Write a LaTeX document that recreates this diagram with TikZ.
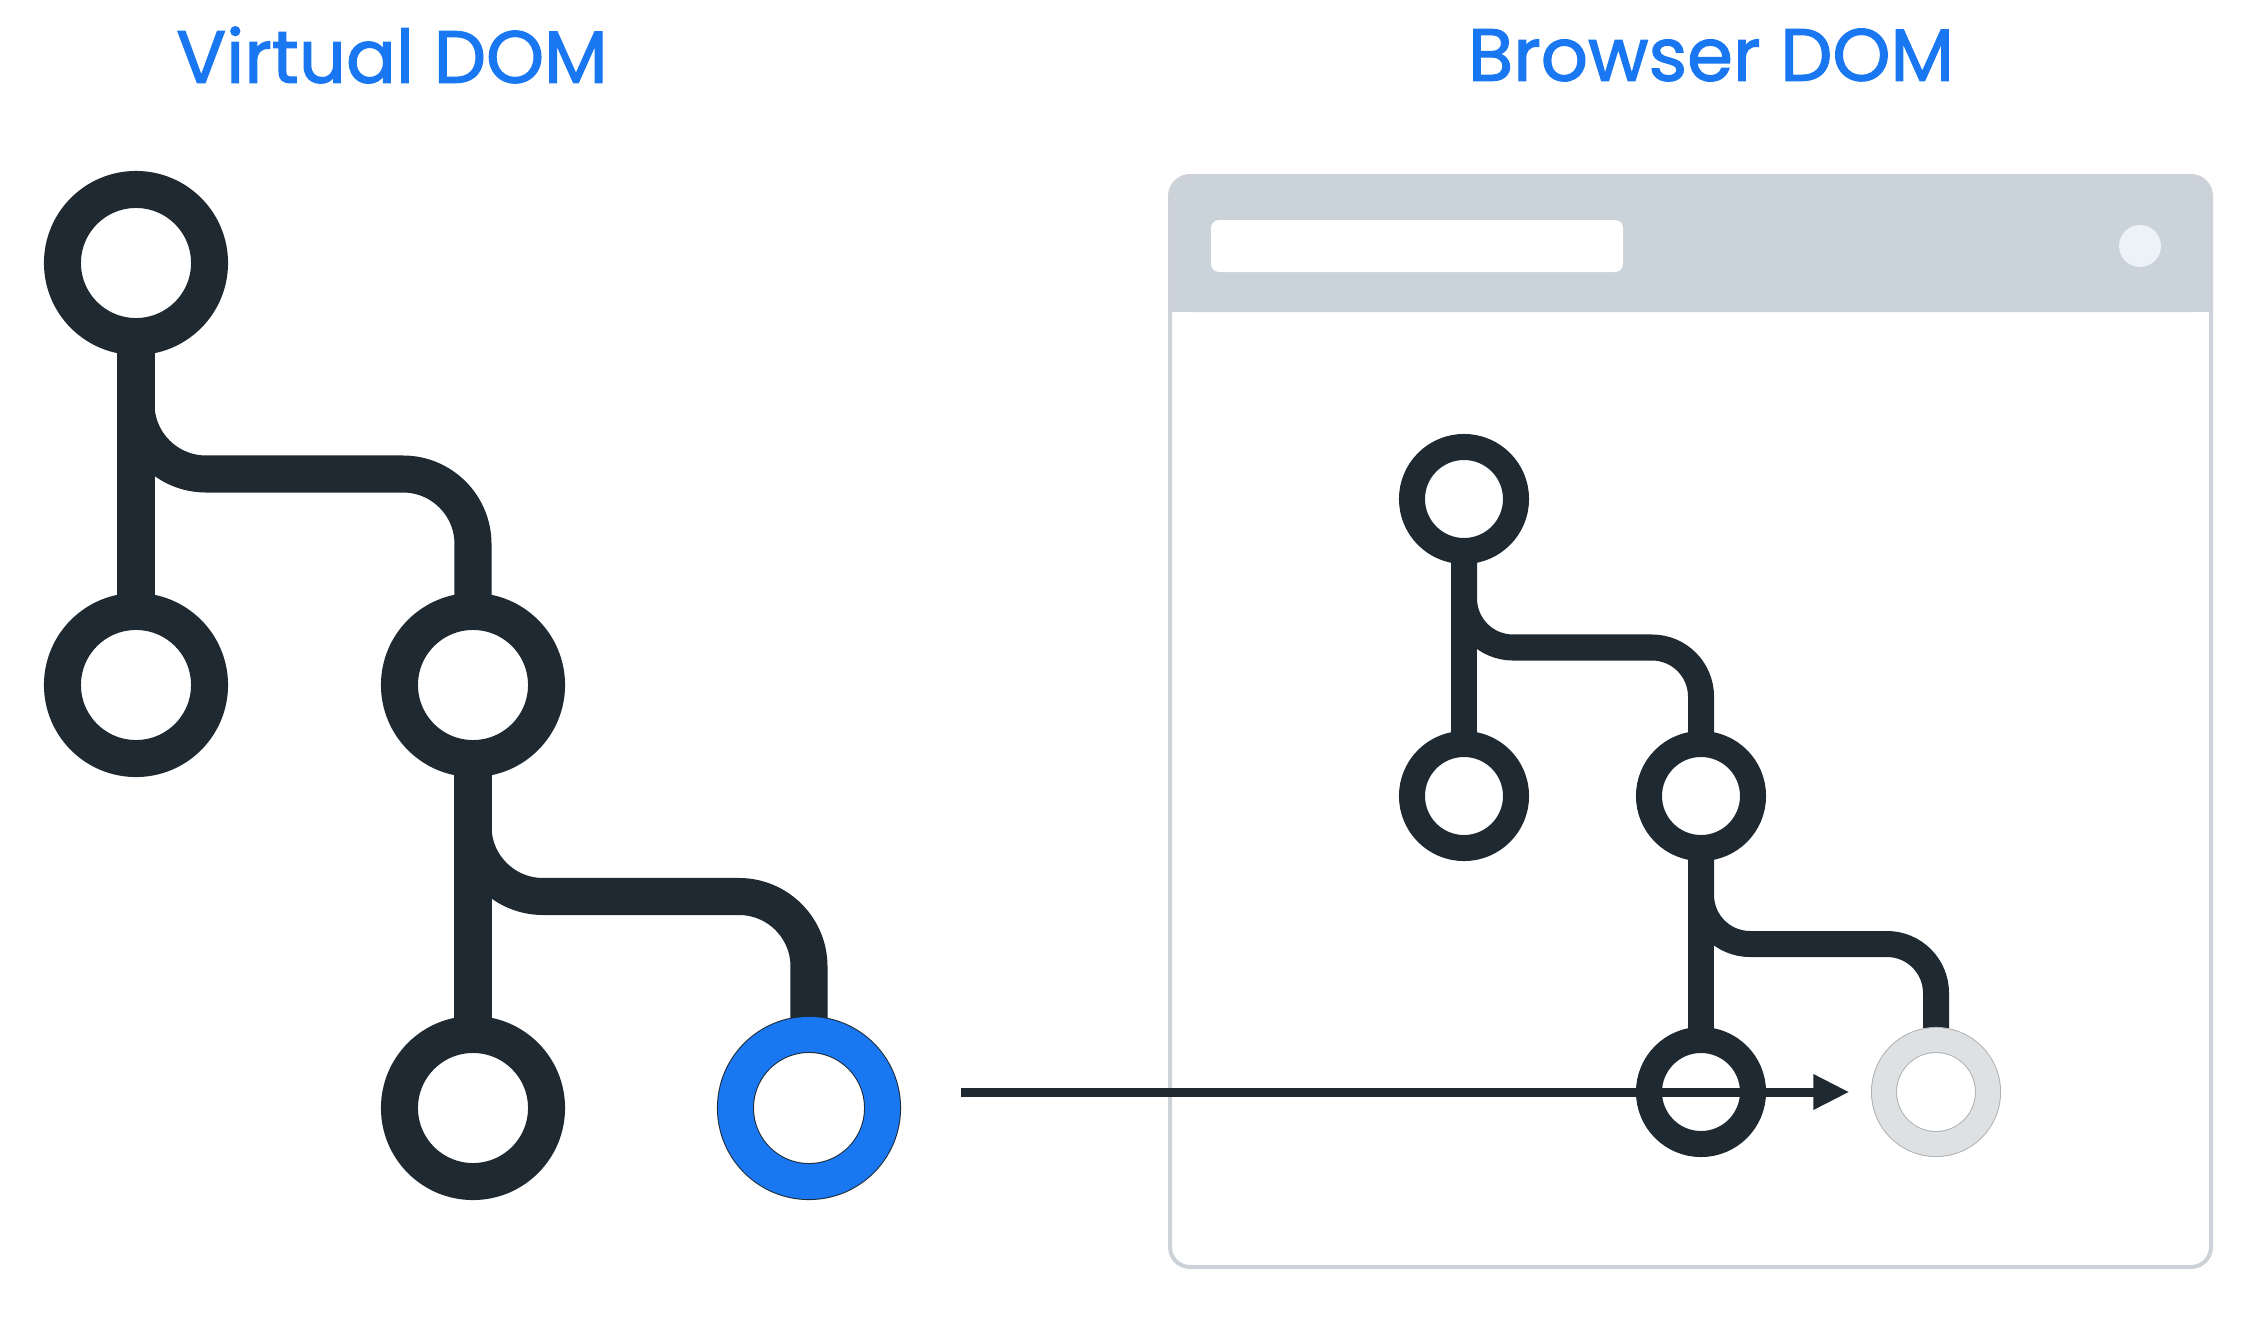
\documentclass[tikz,border=0pt]{standalone}
\usepackage{fontspec}
\setmainfont{Poppins}
\newfontfamily\titlefont{Poppins}[FakeBold=1.6]
\usetikzlibrary{calc,arrows.meta,backgrounds}

\definecolor{treedark}{RGB}{30,41,49}
\definecolor{domblue}{RGB}{26,119,242}
\definecolor{barfill}{RGB}{202,211,217}
\definecolor{frameline}{RGB}{205,210,216}
\definecolor{dotfill}{RGB}{236,242,247}
\definecolor{ghost}{RGB}{222,225,228}

\tikzset{
	bignode/.style={circle,draw=treedark,line width=0.37cm,minimum size=1.47cm,inner sep=0pt,fill=white},
	smallnode/.style={circle,draw=treedark,line width=0.26cm,minimum size=1.04cm,inner sep=0pt,fill=white},
	bigedge/.style={treedark,line width=0.37cm,rounded corners=0.7cm},
	smalledge/.style={treedark,line width=0.26cm,rounded corners=0.49cm},
	title/.style={text=domblue,font=\titlefont\fontsize{21}{25}\selectfont}
}

\begin{document}
\begin{tikzpicture}[x=0.01cm,y=-0.01cm]
	\useasboundingbox (0,0) rectangle (2266,1318);

	\node[title] (vtitle) at (392,55) {Virtual DOM};
	\node[title] (btitle) at (1711,55) {Browser DOM};

	\fill[barfill,rounded corners=0.2cm] (1170,176) rectangle (2211,312);
	\fill[barfill] (1170,250) rectangle (2211,312);
	\draw[frameline,line width=0.04cm,rounded corners=0.2cm] (1170,176) rectangle (2211,1267);
	\fill[white,rounded corners=0.08cm] (1211,220) rectangle (1623,272);
	\node[circle,fill=dotfill,minimum size=0.42cm,inner sep=0pt] (dot) at (2140,246) {};

	\node[bignode] (v0) at (136,263) {};
	\node[bignode] (v1) at (136,685) {};
	\node[bignode] (v2) at (473,685) {};
	\node[bignode] (v3) at (473,1108) {};
	\node[bignode,line width=0.01cm,double=domblue,double distance=0.35cm] (v4) at (809,1108) {};

	\node[smallnode] (b0) at (1464,499) {};
	\node[smallnode] (b1) at (1464,796) {};
	\node[smallnode] (b2) at (1701,796) {};
	\node[smallnode] (b3) at (1701,1092) {};
	\node[smallnode,draw=black!30,line width=0.01cm,double=ghost,double distance=0.24cm] (b4) at (1936,1092) {};

	\begin{scope}[on background layer]
		\draw[bigedge] (v0.center) -- (v1.center);
		\draw[bigedge] (v0.center) -- ($(v0)!0.5!(v1)$) -| (v2.center);
		\draw[bigedge] (v2.center) -- (v3.center);
		\draw[bigedge] (v2.center) -- ($(v2)!0.5!(v3)$) -| (v4.center);
		\draw[smalledge] (b0.center) -- (b1.center);
		\draw[smalledge] (b0.center) -- ($(b0)!0.5!(b1)$) -| (b2.center);
		\draw[smalledge] (b2.center) -- (b3.center);
		\draw[smalledge] (b2.center) -- ($(b2)!0.5!(b3)$) -| (b4.center);
	\end{scope}

	\coordinate (arrstart) at (961,1092);
	\draw[treedark,line width=0.09cm,-{Triangle[length=0.36cm,width=0.33cm]},shorten >=0.34cm] (arrstart) -- (b4);
\end{tikzpicture}
\end{document}
